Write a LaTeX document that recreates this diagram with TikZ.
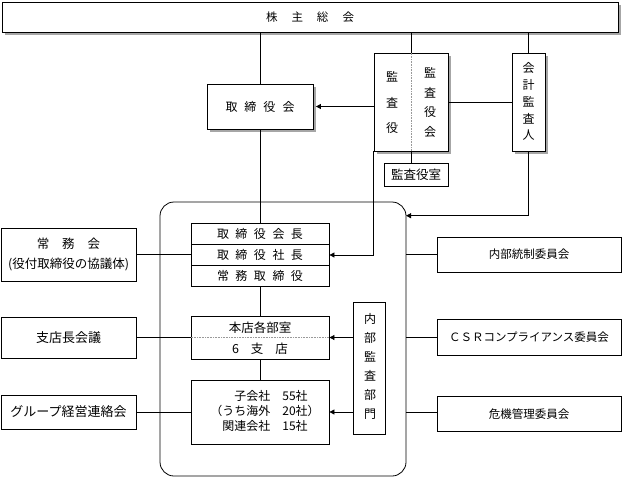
\documentclass[tikz,border=0pt]{standalone}
\usepackage{fontspec}
\setmainfont{Noto Sans CJK JP}
\usetikzlibrary{arrows.meta,calc}
\begin{document}
\begin{tikzpicture}[x=1pt,y=-1pt,
  box/.style={draw,line width=0.8pt,fill=white,inner sep=0pt,font=\fontsize{11.5}{13}\selectfont},
  shbox/.style={box,preaction={draw=none,fill=black!35,transform canvas={shift={(2.5pt,-2.5pt)}}}},
  conn/.style={line width=0.8pt},
  arr/.style={conn,-{Triangle[length=5pt,width=5pt]}},
  vt/.style={align=center,inner sep=0pt}]
\useasboundingbox (0,0) rectangle (623,477);
% big rounded box
\draw[line width=0.8pt,rounded corners=14pt] (160,202) rectangle (406,476);
% top
\node[shbox,minimum width=616pt,minimum height=30pt] (top) at (310,17) {株\hspace{14pt}主\hspace{14pt}総\hspace{14pt}会};
\node[shbox,minimum width=106pt,minimum height=45pt,font=\fontsize{12}{14}\selectfont] (tori) at (260,106.5) {取\hspace{7pt}締\hspace{7pt}役\hspace{7pt}会};
\node[shbox,minimum width=74pt,minimum height=98pt] (kansa) at (411,102) {};
\draw[densely dotted,black!40,line width=0.6pt] (kansa.north) -- (kansa.south);
\node[vt,font=\fontsize{12}{25.5}\selectfont] (kl) at (392,102.7) {監\\査\\役};
\node[vt,font=\fontsize{12}{19.7}\selectfont] (kr) at (430,102.5) {監\\査\\役\\会};
\node[shbox,minimum width=33pt,minimum height=98pt] (kaikei) at (528.5,102) {};
\node[vt,font=\fontsize{12}{16.7}\selectfont] (kk) at (528.5,101.7) {会\\計\\監\\査\\人};
\node[box,minimum width=64pt,minimum height=23pt,font=\fontsize{12.5}{14}\selectfont] (kshitsu) at (416,174.5) {監査役室};
% executive stack
\node[box,minimum width=138pt,minimum height=21pt,font=\fontsize{12}{14}\selectfont] (ex1) at (260,233.5) {取\hspace{6.5pt}締\hspace{6.5pt}役\hspace{6.5pt}会\hspace{6.5pt}長};
\node[box,minimum width=138pt,minimum height=21pt,font=\fontsize{12}{14}\selectfont] (ex2) at (260,255) {取\hspace{6.5pt}締\hspace{6.5pt}役\hspace{6.5pt}社\hspace{6.5pt}長};
\node[box,minimum width=138pt,minimum height=21pt,font=\fontsize{12}{14}\selectfont] (ex3) at (260,276) {常\hspace{6.5pt}務\hspace{6.5pt}取\hspace{6.5pt}締\hspace{6.5pt}役};
% honten
\node[box,minimum width=138pt,minimum height=43pt] (honten) at (260,337.5) {};
\draw[densely dotted,black!40,line width=0.6pt] (honten.west) -- (honten.east);
\node[vt,font=\fontsize{12.5}{14}\selectfont] (ht1) at (260,327.5) {本店各部室};
\node[vt,font=\fontsize{12.5}{14}\selectfont] (ht2) at (260,349) {6\hspace{12pt}支\hspace{12pt}店};
% kogaisha
\node[box,minimum width=138pt,minimum height=64pt] (kog) at (260,412) {};
\node[vt,font=\fontsize{12}{14.6}\selectfont] (kogt) at (265,412.5) {\begin{tabular}{@{}r@{\hspace{12pt}}l@{}}子会社&55社\\（うち海外&20社）\\関連会社&15社\end{tabular}};
% naibu kansa
\node[box,minimum width=32pt,minimum height=132pt] (naibu) at (369.5,368) {};
\node[vt,font=\fontsize{12}{19}\selectfont] (nbt) at (370,366) {内\\部\\監\\査\\部\\門};
% left boxes
\node[box,minimum width=135pt,minimum height=53pt,align=center,font=\fontsize{12.5}{19.5}\selectfont] (jomu) at (68.5,254.5) {常\hspace{13pt}務\hspace{13pt}会\\(役付取締役の協議体)};
\node[box,minimum width=135pt,minimum height=41pt,font=\fontsize{13}{15}\selectfont] (shiten) at (68.5,337.5) {支店長会議};
\node[box,minimum width=135pt,minimum height=34pt,font=\fontsize{13}{15}\selectfont] (group) at (68.5,412) {グループ経営連絡会};
% right boxes
\node[box,minimum width=184pt,minimum height=35pt,font=\fontsize{11.5}{14}\selectfont] (naibutosei) at (529,254.5) {内部統制委員会};
\node[box,minimum width=184pt,minimum height=36pt,font=\fontsize{11.5}{14}\selectfont] (csr) at (529,337) {ＣＳＲコンプライアンス委員会};
\node[box,minimum width=184pt,minimum height=35pt,font=\fontsize{11.5}{14}\selectfont] (kiki) at (529,414.2) {危機管理委員会};
% coordinates on rounded box right edge
\coordinate (rbA) at (406,215.7);
\coordinate (rb1) at (406,254.5);
\coordinate (rb2) at (406,337.7);
\coordinate (rb3) at (406,412);
% connectors
\draw[conn] (top.south -| tori.north) -- (tori.north);
\draw[conn] (top.south -| kansa.north) -- (kansa.north);
\draw[conn] (top.south -| kaikei.north) -- (kaikei.north);
\draw[arr] (kansa.west |- tori.east) -- ([xshift=2.5pt]tori.east);
\draw[conn] (kansa.east |- kaikei.west) -- (kaikei.west);
\draw[conn] (kansa.south) -- (kansa.south |- kshitsu.north);
\draw[arr] (kansa.south west) |- (ex2.east);
\draw[arr] (kaikei.south) |- (rbA);
\draw[conn] (tori.south) -- (ex1.north);
\draw[conn] (ex3.south) -- (honten.north);
\draw[conn] (honten.south) -- (kog.north);
\draw[arr] (naibu.west |- honten.east) -- (honten.east);
\draw[arr] (naibu.west |- kog.east) -- (kog.east);
\draw[conn] (jomu.east) -- (jomu.east -| ex2.west);
\draw[conn] (shiten.east) -- (shiten.east -| honten.west);
\draw[conn] (group.east) -- (group.east -| kog.west);
\draw[conn] (rb1) -- (rb1 -| naibutosei.west);
\draw[conn] (rb2) -- (rb2 -| csr.west);
\draw[conn] (rb3) -- (rb3 -| kiki.west);
\end{tikzpicture}
\end{document}
